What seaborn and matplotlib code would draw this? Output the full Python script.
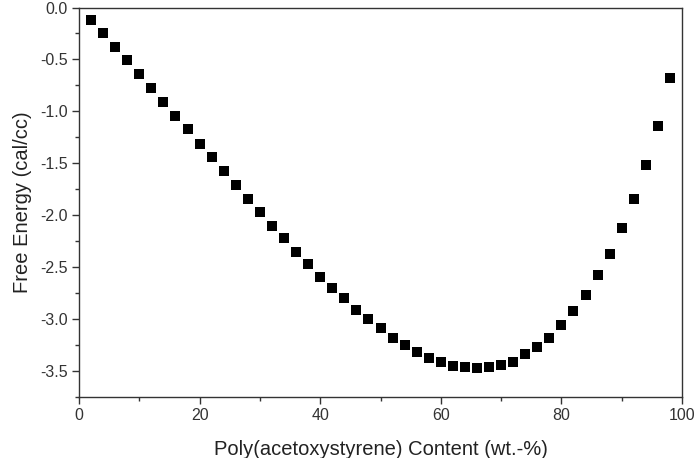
import matplotlib
matplotlib.use("Agg")
import matplotlib.pyplot as plt
import seaborn as sns
import pandas as pd
from matplotlib.ticker import MultipleLocator

content = [2, 4, 6, 8, 10, 12, 14, 16, 18, 20, 22, 24, 26, 28, 30, 32, 34, 36, 38, 40,
           42, 44, 46, 48, 50, 52, 54, 56, 58, 60, 62, 64, 66, 68, 70, 72, 74, 76, 78, 80,
           82, 84, 86, 88, 90, 92, 94, 96, 98]
free_energy = [-0.125, -0.25, -0.38, -0.51, -0.645, -0.775, -0.906, -1.04, -1.17, -1.31,
               -1.44, -1.57, -1.71, -1.84, -1.97, -2.10, -2.22, -2.35, -2.47, -2.59,
               -2.70, -2.80, -2.91, -3.00, -3.09, -3.18, -3.25, -3.32, -3.37, -3.415,
               -3.45, -3.46, -3.47, -3.46, -3.44, -3.41, -3.34, -3.27, -3.18, -3.06,
               -2.92, -2.77, -2.58, -2.37, -2.12, -1.84, -1.52, -1.14, -0.675]

df = pd.DataFrame({"content": content, "energy": free_energy})

sns.set_style("ticks")
plt.rcParams['font.family'] = ['Liberation Sans', 'DejaVu Sans']

fig = plt.figure(figsize=(6.94, 4.58), dpi=100)
ax = fig.add_axes([79/694, 1 - 397/458, (682 - 79)/694, (397 - 7.5)/458])

sns.scatterplot(data=df, x="content", y="energy", marker="s", s=42, color="black",
                edgecolor="black", linewidth=0, ax=ax, legend=False)

ax.set_xlim(0, 100)
ax.set_ylim(-3.75, 0)
ax.xaxis.set_major_locator(MultipleLocator(20))
ax.xaxis.set_minor_locator(MultipleLocator(10))
ax.yaxis.set_major_locator(MultipleLocator(0.5))
ax.yaxis.set_minor_locator(MultipleLocator(0.25))
ax.yaxis.set_major_formatter(matplotlib.ticker.FormatStrFormatter('%.1f'))

for sp in ax.spines.values():
    sp.set_color("#333333")
    sp.set_linewidth(1.0)

ax.tick_params(axis="both", which="major", direction="out", length=5, width=1,
               color="#333333", labelsize=11.5, labelcolor="#333333", pad=3)
ax.tick_params(axis="both", which="minor", direction="out", length=3, width=1,
               color="#333333")

ax.set_xlabel("Poly(acetoxystyrene) Content (wt.-%)", fontsize=14.5, color="#222222", labelpad=12)
ax.set_ylabel("Free Energy (cal/cc)", fontsize=14.5, color="#222222", labelpad=6)

fig.savefig("out.png", dpi=100)
